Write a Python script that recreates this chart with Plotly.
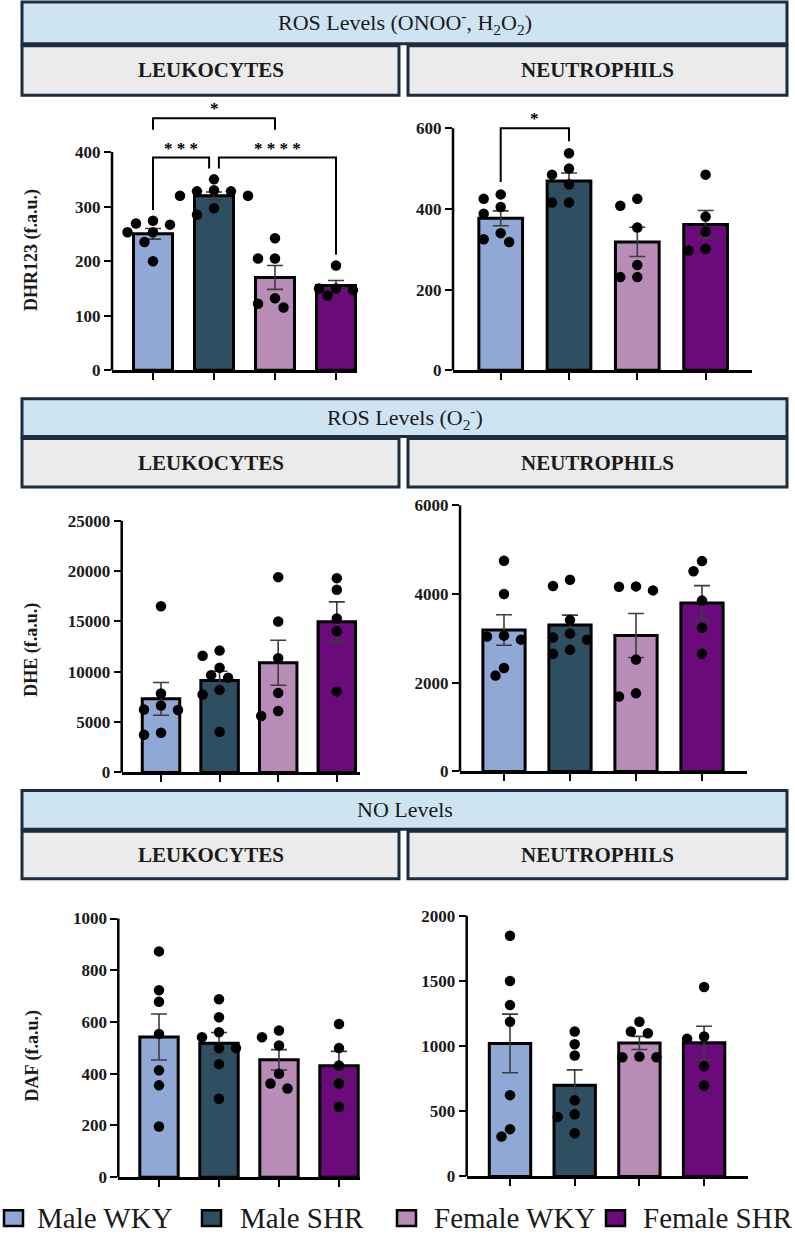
import numpy as np
import plotly.graph_objects as go

W, H = 795, 1242
SERIF = "Liberation Serif"

GROUPS = ["Male WKY", "Male SHR", "Female WKY", "Female SHR"]
COLORS = ["#8fa8d6", "#2e4f62", "#b98bb7", "#6b0a7a"]

# ---- data (f.a.u.) ----
dhr_leu_mwky = [274, 267, 269, 253, 253, 235, 200]
dhr_leu_mshr = [350, 330, 328, 328, 320, 320, 285, 297]
dhr_leu_fwky = [242, 205, 205, 132, 115, 122]
dhr_leu_fshr = [192, 137, 150, 150, 147]

dhr_neu_mwky = [425, 436, 405, 388, 340, 318, 325]
dhr_neu_mshr = [538, 500, 485, 461, 416, 416]
dhr_neu_fwky = [408, 425, 354, 261, 231, 231]
dhr_neu_fshr = [485, 381, 344, 297, 301]

dhe_leu_mwky = [16500, 7850, 6250, 6650, 6200, 3750, 3950]
dhe_leu_mshr = [12100, 11600, 9650, 10400, 9400, 8200, 7750, 4050]
dhe_leu_fwky = [19400, 15000, 11350, 7900, 5600, 6100]
dhe_leu_fshr = [19300, 18150, 15300, 14050, 8050]

dhe_neu_mwky = [4750, 4000, 3060, 2970, 3040, 2160, 2330]
dhe_neu_mshr = [4180, 4320, 3410, 3020, 3110, 2970, 2650, 2740]
dhe_neu_fwky = [4160, 4080, 4170, 2520, 1690, 1760]
dhe_neu_fshr = [4740, 4510, 3850, 3240, 2650]

daf_leu_mwky = [873, 723, 678, 554, 413, 355, 196]
daf_leu_mshr = [688, 618, 541, 560, 499, 499, 437, 303]
daf_leu_fwky = [541, 567, 509, 400, 343, 362]
daf_leu_fshr = [592, 499, 432, 362, 271]

daf_neu_mwky = [1848, 1500, 1315, 1188, 624, 307, 363]
daf_neu_mshr = [1112, 1015, 929, 584, 477, 457, 332]
daf_neu_fwky = [1188, 1112, 1099, 914, 921, 914]
daf_neu_fshr = [1454, 1056, 1074, 845, 698]

# significance brackets: groups compared, label, bracket level and leg ends (data units)
SIG_DHR_LEU = [
    dict(g1=0, g2=2, label="*", top=462, leg1=441, leg2=441, d1=0.0, d2=0.0),
    dict(g1=0, g2=1, label="* * *", top=390, leg1=294, leg2=370, d1=0.0, d2=-0.08),
    dict(g1=1, g2=3, label="* * * *", top=390, leg1=370, leg2=212, d1=0.08, d2=0.0),
]
SIG_DHR_NEU = [
    dict(g1=0, g2=1, label="*", top=600, leg1=467, leg2=568, d1=0.0, d2=0.0),
]

SECTIONS = [
    dict(title="ROS Levels (ONOO<sup>-</sup>, H<sub>2</sub>O<sub>2</sub>)", yb=(2, 44), yg=(46, 96)),
    dict(title="ROS Levels (O<sub>2</sub><sup>-</sup>)", yb=(402, 440), yg=(442, 491)),
    dict(title="NO Levels", yb=(797, 836), yg=(838, 886)),
]
CELLS = ["LEUKOCYTES", "NEUTROPHILS"]

PANELS = [
    dict(data=[dhr_leu_mwky, dhr_leu_mshr, dhr_leu_fwky, dhr_leu_fshr], ticks=[0, 100, 200, 300, 400],
         x0=112, x1=357, xb=153, sp=61, ybot=373.3, ytop=98, ttop=153.3, ylabel="DHR123 (f.a.u.)", ylab_y=252, sig=SIG_DHR_LEU),
    dict(data=[dhr_neu_mwky, dhr_neu_mshr, dhr_neu_fwky, dhr_neu_fshr], ticks=[0, 200, 400, 600],
         x0=453, x1=752, xb=500.7, sp=68.3, ybot=373.3, ytop=98, ttop=129.3, ylabel=None, sig=SIG_DHR_NEU),
    dict(data=[dhe_leu_mwky, dhe_leu_mshr, dhe_leu_fwky, dhe_leu_fshr], ticks=[0, 5000, 10000, 15000, 20000, 25000],
         x0=121.7, x1=360, xb=161, sp=58.6, ybot=778.7, ytop=495, ttop=525, ylabel="DHE (f.a.u.)", ylab_y=655, sig=[]),
    dict(data=[dhe_neu_mwky, dhe_neu_mshr, dhe_neu_fwky, dhe_neu_fshr], ticks=[0, 2000, 4000, 6000],
         x0=460, x1=747, xb=504, sp=66, ybot=777.7, ytop=495, ttop=509.3, ylabel=None, sig=[]),
    dict(data=[daf_leu_mwky, daf_leu_mshr, daf_leu_fwky, daf_leu_fshr], ticks=[0, 200, 400, 600, 800, 1000],
         x0=118.3, x1=360, xb=159, sp=60, ybot=1186.7, ytop=890, ttop=926, ylabel="DAF (f.a.u.)", ylab_y=1065, sig=[]),
    dict(data=[daf_neu_mwky, daf_neu_mshr, daf_neu_fwky, daf_neu_fshr], ticks=[0, 500, 1000, 1500, 2000],
         x0=466.7, x1=748, xb=510, sp=64.7, ybot=1186, ytop=890, ttop=923.3, ylabel=None, sig=[]),
]

DOT = 10.5  # px


def swarm(vals, ppu_y, ppu_x):
    """Deterministic beeswarm offsets (in x data units)."""
    order = np.argsort(-np.asarray(vals, float), kind="stable")
    placed = []
    offs = [0.0] * len(vals)
    step = 8.5
    cands = [0.0]
    for k in range(1, 8):
        cands += [-k * step, k * step]
    for i in order:
        yp = vals[i] * ppu_y
        for c in cands:
            if all((c - px) ** 2 + (yp - py) ** 2 >= (DOT + 0.5) ** 2 for px, py in placed):
                placed.append((c, yp))
                offs[i] = c / ppu_x
                break
    return offs


fig = go.Figure()
layout = dict(width=W, height=H, margin=dict(l=0, r=0, t=0, b=0),
              paper_bgcolor="white", plot_bgcolor="rgba(0,0,0,0)", showlegend=False)
shapes, annots = [], []

for k, p in enumerate(PANELS):
    n = k + 1
    xa = "x" if n == 1 else f"x{n}"
    ya = "y" if n == 1 else f"y{n}"
    top_tick = p["ticks"][-1]
    ymax = top_tick * (p["ybot"] - p["ytop"]) / (p["ybot"] - p["ttop"])
    xr = [(p["x0"] - p["xb"]) / p["sp"], (p["x1"] - p["xb"]) / p["sp"]]
    ppu_y = (p["ybot"] - p["ttop"]) / top_tick
    layout["xaxis" if n == 1 else f"xaxis{n}"] = dict(
        domain=[p["x0"] / W, p["x1"] / W], range=xr, anchor=ya,
        showline=True, linecolor="black", linewidth=2.5, showgrid=False, zeroline=False,
        ticks="outside", ticklen=7, tickwidth=2, tickcolor="black",
        tickvals=[0, 1, 2, 3], showticklabels=False, fixedrange=True)
    layout["yaxis" if n == 1 else f"yaxis{n}"] = dict(
        domain=[1 - p["ybot"] / H, 1 - p["ytop"] / H], range=[0, ymax], anchor=xa,
        showline=False, showgrid=False, zeroline=False,
        ticks="outside", ticklen=7, tickwidth=2, tickcolor="black",
        tickvals=p["ticks"], ticktext=[str(t) for t in p["ticks"]],
        tickfont=dict(family=SERIF, size=17, color="#1a1a1a", weight="bold"), fixedrange=True)
    # y axis line only up to the top tick
    shapes.append(dict(type="line", xref=f"{xa} domain", yref=ya, x0=0, x1=0, y0=0, y1=top_tick,
                       line=dict(color="black", width=2.5), layer="above"))

    means = [float(np.mean(v)) for v in p["data"]]
    sems = [float(np.std(v, ddof=1) / np.sqrt(len(v))) for v in p["data"]]
    fig.add_trace(go.Bar(
        x=[0, 1, 2, 3], y=means, width=0.64, xaxis=xa, yaxis=ya,
        marker=dict(color=COLORS, line=dict(color="black", width=3)),
        error_y=dict(type="data", array=sems, visible=True, color="#3c3c3c", thickness=1.6, width=8),
        hoverinfo="skip"))
    xs, ys = [], []
    for g, vals in enumerate(p["data"]):
        offs = swarm(vals, ppu_y, p["sp"])
        xs += [g + o for o in offs]
        ys += list(vals)
    fig.add_trace(go.Scatter(x=xs, y=ys, mode="markers", xaxis=xa, yaxis=ya, cliponaxis=False,
                             marker=dict(color="black", size=DOT, line=dict(width=0)), hoverinfo="skip"))
    for s in p["sig"]:
        xa1 = s["g1"] + s["d1"]
        xa2 = s["g2"] + s["d2"]
        fig.add_trace(go.Scatter(x=[xa1, xa1, xa2, xa2], y=[s["leg1"], s["top"], s["top"], s["leg2"]],
                                 mode="lines", xaxis=xa, yaxis=ya, cliponaxis=False,
                                 line=dict(color="black", width=2), hoverinfo="skip"))
        annots.append(dict(x=(xa1 + xa2) / 2, y=s["top"], xref=xa, yref=ya, text=s["label"],
                           showarrow=False, xanchor="center", yanchor="bottom", yshift=-2,
                           font=dict(family=SERIF, size=17, color="black", weight="bold")))
    if p["ylabel"]:
        annots.append(dict(x=32 / W, y=1 - p["ylab_y"] / H, xref="paper", yref="paper",
                           text=p["ylabel"], textangle=-90, showarrow=False,
                           xanchor="center", yanchor="middle",
                           font=dict(family=SERIF, size=18, color="#1a1a1a", weight="bold")))

# section headers
BORDER = "#1d2d3b"
for sec in SECTIONS:
    y0, y1 = sec["yb"]
    shapes.append(dict(type="rect", xref="paper", yref="paper", x0=22 / W, x1=787 / W,
                       y0=1 - y1 / H, y1=1 - y0 / H, fillcolor="#cfe4f3",
                       line=dict(color=BORDER, width=3), layer="above"))
    annots.append(dict(x=404.5 / W, y=1 - (y0 + y1) / 2 / H, xref="paper", yref="paper",
                       text=sec["title"], showarrow=False, xanchor="center", yanchor="middle",
                       font=dict(family=SERIF, size=22, color="#1a1a1a")))
    g0, g1 = sec["yg"]
    for (xl, xr_), cell in zip([(22, 399), (408, 787)], CELLS):
        shapes.append(dict(type="rect", xref="paper", yref="paper", x0=xl / W, x1=xr_ / W,
                           y0=1 - g1 / H, y1=1 - g0 / H, fillcolor="#ebebeb",
                           line=dict(color=BORDER, width=3), layer="above"))
        annots.append(dict(x=(xl + xr_) / 2 / W, y=1 - (g0 + g1) / 2 / H, xref="paper", yref="paper",
                           text=cell, showarrow=False, xanchor="center", yanchor="middle",
                           font=dict(family=SERIF, size=21, color="#1a1a1a", weight="bold")))

# legend
LEG_SW = [4, 202, 397, 606]
LEG_TX = [35, 238, 432, 641]
for name, col, sx, tx in zip(GROUPS, COLORS, LEG_SW, LEG_TX):
    shapes.append(dict(type="rect", xref="paper", yref="paper", x0=sx / W, x1=(sx + 19) / W,
                       y0=1 - 1236 / H, y1=1 - 1220 / H, fillcolor=col,
                       line=dict(color="black", width=2.5)))
    annots.append(dict(x=tx / W, y=1 - 1228 / H, xref="paper", yref="paper", text=name,
                       showarrow=False, xanchor="left", yanchor="middle",
                       font=dict(family=SERIF, size=29, color="#1a1a1a")))

layout["shapes"] = shapes
layout["annotations"] = annots
fig.update_layout(**layout)
fig.write_html("out.html")
